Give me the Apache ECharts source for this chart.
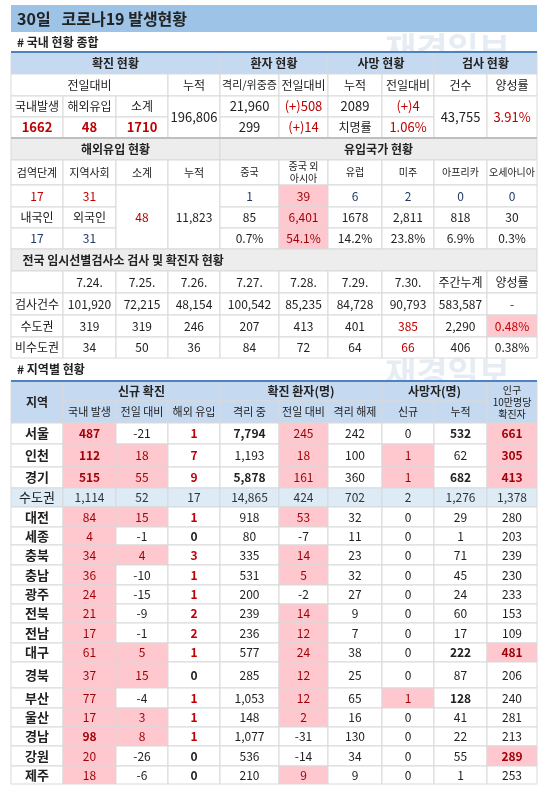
<!DOCTYPE html>
<html>
<head>
<meta charset="utf-8">
<script src="https://cdn.jsdelivr.net/npm/echarts@6/dist/echarts.min.js"></script>
<style>html,body{margin:0;padding:0;background:#fff}#main{width:550px;height:793px}</style>
</head>
<body>
<div id="main"></div>
<script>
// ---- data ----
const summaryHeads = ['확진 현황', '환자 현황', '사망 현황', '검사 현황'];
const summarySubHeads = ['전일대비', '누적', '격리/위중증', '전일대비', '누적', '전일대비', '건수', '양성률'];
const confirmedLabels = ['국내발생', '해외유입', '소계'];
const confirmedToday = ['1662', '48', '1710'];
const confirmedTotal = '196,806';
const patients = ['21,960', '(+)508', '299', '(+)14'];
const deaths = ['2089', '(+)4', '치명률', '1.06%'];
const tests = ['43,755', '3.91%'];

const overseasHeads = ['검역단계', '지역사회', '소계', '누적', '중국', '중국 외\n아시아', '유럽', '미주', '아프리카', '오세아니아'];
const overseasStage = ['17', '31'];
const overseasOrigin = ['내국인', '외국인'];
const overseasOriginNum = ['17', '31'];
const overseasSum = '48';
const overseasTotal = '11,823';
const countryToday = ['1', '39', '6', '2', '0', '0'];
const countryTotal = ['85', '6,401', '1678', '2,811', '818', '30'];
const countryShare = ['0.7%', '54.1%', '14.2%', '23.8%', '6.9%', '0.3%'];

const testDates = ['7.24.', '7.25.', '7.26.', '7.27.', '7.28.', '7.29.', '7.30.', '주간누계', '양성률'];
const testRows = ['검사건수', '수도권', '비수도권'];
const testCounts = ['101,920', '72,215', '48,154', '100,542', '85,235', '84,728', '90,793', '583,587', '-'];
const testCapital = ['319', '319', '246', '207', '413', '401', '385', '2,290', '0.48%'];
const testNonCapital = ['34', '50', '36', '84', '72', '64', '66', '406', '0.38%'];

const regionSubHeads = ['국내 발생', '전일 대비', '해외 유입', '격리 중', '전일 대비', '격리 해제', '신규', '누적'];
const regions = ['서울', '인천', '경기', '수도권', '대전', '세종', '충북', '충남', '광주', '전북', '전남', '대구', '경북', '부산', '울산', '경남', '강원', '제주'];
const newDomestic = ['487', '112', '515', '1,114', '84', '4', '34', '36', '24', '21', '17', '61', '37', '77', '17', '98', '20', '18'];
const newDiff = ['-21', '18', '55', '52', '15', '-1', '4', '-10', '-15', '-9', '-1', '5', '15', '-4', '3', '8', '-26', '-6'];
const newOverseas = ['1', '7', '9', '17', '1', '0', '3', '1', '1', '2', '2', '1', '0', '1', '1', '1', '0', '0'];
const isolating = ['7,794', '1,193', '5,878', '14,865', '918', '80', '335', '531', '200', '239', '236', '577', '285', '1,053', '148', '1,077', '536', '210'];
const isoDiff = ['245', '18', '161', '424', '53', '-7', '14', '5', '-2', '14', '12', '24', '12', '12', '2', '-31', '-14', '9'];
const released = ['242', '100', '360', '702', '32', '11', '23', '32', '27', '9', '7', '38', '25', '65', '16', '130', '34', '9'];
const deathNew = ['0', '1', '1', '2', '0', '0', '0', '0', '0', '0', '0', '0', '0', '1', '0', '0', '0', '0'];
const deathTotal = ['532', '62', '682', '1,276', '29', '1', '71', '45', '24', '60', '17', '222', '87', '128', '41', '22', '55', '1'];
const per100k = ['661', '305', '413', '1,378', '280', '203', '239', '230', '233', '153', '109', '481', '206', '240', '281', '213', '289', '253'];
// highlighted cells [row, col]
const regionPink = [[0,1],[0,5],[0,9],[1,1],[1,2],[1,5],[1,7],[1,9],[2,1],[2,2],[2,5],[2,7],[2,9],
  [4,1],[4,2],[4,5],[5,1],[6,1],[6,2],[6,5],[7,1],[7,5],[8,1],[9,1],[9,5],[10,1],[10,5],
  [11,1],[11,2],[11,5],[11,9],[12,1],[12,2],[12,5],[13,1],[13,5],[13,7],[14,1],[14,2],[14,5],
  [15,1],[15,2],[16,1],[16,9],[17,1],[17,5]];
const regionBold = [[0,1],[1,1],[2,1],[15,1],[0,4],[2,4],[0,8],[2,8],[11,8],[13,8],[0,9],[1,9],[2,9],[11,9],[16,9]];

// ---- layout ----
const C = [11, 63, 116, 168, 220, 279, 328, 382, 434, 487, 537];
const R1 = [52, 74, 96, 117, 138];
const R2 = [138, 160, 185, 207, 228, 249];
const R3 = [249, 271, 293, 315, 337, 358];
const R4 = [381, 401, 423, 444, 467, 488, 507, 527, 545, 565, 585, 604, 623, 643, 662, 688, 708, 727, 746, 766, 784];

const HEAD = '#c5d9f1', GRAY = '#ededed', PINK = '#ffc7ce', RED = '#c00000', PINKTXT = '#9c0006', LINE = '#d9d9d9';
const cells = [];
function cell(x0, x1, y0, y1, text, o = {}) {
  cells.push(Object.assign({ x0, x1, y0, y1, text, bg: '#fff', color: '#222', bold: false, size: 12, align: 'center', stroke: LINE }, o));
}
function cc(c0, c1, y0, y1, text, o) { cell(C[c0], C[c1], y0, y1, text, o); }

// title
cell(11, 537, 5, 32, '30일   코로나19 발생현황', { bg: '#9dc3e6', bold: true, size: 16, align: 'left', stroke: null });
cell(11, 300, 34, 50, '# 국내 현황 종합', { bg: null, bold: true, size: 12, align: 'left', stroke: null });
cell(11, 300, 360, 378, '# 지역별 현황', { bg: null, bold: true, size: 12, align: 'left', stroke: null });

// summary
[[0, 4], [4, 6], [6, 8], [8, 10]].forEach(([a, b], i) => cc(a, b, R1[0], R1[1], summaryHeads[i], { bg: HEAD, bold: true }));
cc(0, 3, R1[1], R1[2], summarySubHeads[0]);
summarySubHeads.slice(1).forEach((t, i) => cc(i + 3, i + 4, R1[1], R1[2], t, { size: i === 1 ? 11 : 12 }));
confirmedLabels.forEach((t, i) => cc(i, i + 1, R1[2], R1[3], t));
confirmedToday.forEach((t, i) => cc(i, i + 1, R1[3], R1[4], t, { color: RED, bold: true, size: 13 }));
cc(3, 4, R1[2], R1[4], confirmedTotal, { size: 13 });
cc(4, 5, R1[2], R1[3], patients[0], { size: 13 });
cc(5, 6, R1[2], R1[3], patients[1], { size: 13, color: RED });
cc(4, 5, R1[3], R1[4], patients[2], { size: 13 });
cc(5, 6, R1[3], R1[4], patients[3], { size: 13, color: RED });
cc(6, 7, R1[2], R1[3], deaths[0], { size: 13 });
cc(7, 8, R1[2], R1[3], deaths[1], { size: 13, color: RED });
cc(6, 7, R1[3], R1[4], deaths[2]);
cc(7, 8, R1[3], R1[4], deaths[3], { size: 13, color: RED });
cc(8, 9, R1[2], R1[4], tests[0], { size: 13 });
cc(9, 10, R1[2], R1[4], tests[1], { size: 13, color: RED });

// overseas
cc(0, 4, R2[0], R2[1], '해외유입 현황', { bg: GRAY, bold: true });
cc(4, 10, R2[0], R2[1], '유입국가 현황', { bg: GRAY, bold: true });
overseasHeads.forEach((t, i) => cc(i, i + 1, R2[1], R2[2], t, { size: i >= 4 ? 10 : 11 }));
overseasStage.forEach((t, i) => cc(i, i + 1, R2[2], R2[3], t, { color: RED }));
overseasOrigin.forEach((t, i) => cc(i, i + 1, R2[3], R2[4], t));
overseasOriginNum.forEach((t, i) => cc(i, i + 1, R2[4], R2[5], t, { color: '#1f3864' }));
cc(2, 3, R2[2], R2[5], overseasSum, { color: RED });
cc(3, 4, R2[2], R2[5], overseasTotal);
[countryToday, countryTotal, countryShare].forEach((arr, r) => arr.forEach((t, i) =>
  cc(i + 4, i + 5, R2[r + 2], R2[r + 3], t, i === 1 ? { bg: PINK, color: PINKTXT } : { color: r === 0 ? '#1f3864' : '#222' })));

// screening
cell(C[0], C[10], R3[0], R3[1], '  전국 임시선별검사소 검사 및 확진자 현황', { bg: GRAY, bold: true, align: 'left' });
cc(0, 1, R3[1], R3[2], '');
testDates.forEach((t, i) => cc(i + 1, i + 2, R3[1], R3[2], t));
[testCounts, testCapital, testNonCapital].forEach((arr, r) => {
  cc(0, 1, R3[r + 2], R3[r + 3], testRows[r]);
  arr.forEach((t, i) => {
    const o = {};
    if (r > 0 && i === 6) o.color = RED;
    if (r === 1 && i === 8) { o.bg = PINK; o.color = RED; }
    cc(i + 1, i + 2, R3[r + 2], R3[r + 3], t, o);
  });
});

// regions
cc(0, 1, R4[0], R4[2], '지역', { bg: HEAD, bold: true });
cc(1, 4, R4[0], R4[1], '신규 확진', { bg: HEAD, bold: true });
cc(4, 7, R4[0], R4[1], '확진 환자(명)', { bg: HEAD, bold: true });
cc(7, 9, R4[0], R4[1], '사망자(명)', { bg: HEAD, bold: true });
cc(9, 10, R4[0], R4[2], '인구\n10만명당\n확진자', { bg: HEAD, size: 10 });
regionSubHeads.forEach((t, i) => cc(i + 1, i + 2, R4[1], R4[2], t, { bg: HEAD, size: 11 }));
const cols = [newDomestic, newDiff, newOverseas, isolating, isoDiff, released, deathNew, deathTotal, per100k];
const has = (list, r, c) => list.some(p => p[0] === r && p[1] === c);
regions.forEach((name, r) => {
  const y0 = R4[r + 2], y1 = R4[r + 3];
  const cap = name === '수도권';
  cc(0, 1, y0, y1, name, { bold: !cap, bg: cap ? '#ddebf7' : '#fff', size: 13 });
  cols.forEach((arr, k) => {
    const c = k + 1, o = { size: 12 };
    if (cap) { o.bg = '#ddebf7'; o.color = '#333'; }
    else if (has(regionPink, r, c)) { o.bg = PINK; o.color = PINKTXT; }
    if (has(regionBold, r, c)) o.bold = true;
    if (c === 3 && !cap) { o.bold = true; o.color = arr[r] === '0' ? '#222' : RED; }
    cc(c, c + 1, y0, y1, arr[r], o);
  });
});

// table top lines
const topLines = [[C[0], C[10], 51, 53, '#4f81bd'], [C[0], C[10], 137, 139, '#bfbfbf'], [C[0], C[10], 380, 382, '#4f81bd']];
topLines.forEach(([x0, x1, y0, y1, bg]) => cell(x0, x1, y0, y1, '', { bg, stroke: null }));

const chart = echarts.init(document.getElementById('main'));
chart.setOption({
  animation: false,
  graphic: [
    { type: 'text', left: 385, top: 32, z: 0, style: { text: '재경일보', fontSize: 34, fontWeight: 'bold', fill: 'rgba(180,200,220,0.35)', fontFamily: 'Noto Sans CJK KR' } },
    { type: 'text', left: 385, top: 356, z: 0, style: { text: '재경일보', fontSize: 34, fontWeight: 'bold', fill: 'rgba(180,200,220,0.35)', fontFamily: 'Noto Sans CJK KR' } }
  ],
  grid: { left: 0, right: 0, top: 0, bottom: 0 },
  xAxis: { type: 'value', min: 0, max: 550, show: false },
  yAxis: { type: 'value', min: 0, max: 793, inverse: true, show: false },
  series: [{
    type: 'custom',
    z: 5,
    data: cells.map(c => [c.x0, c.y0, c.x1, c.y1]),
    renderItem: (params, api) => {
      const c = cells[params.dataIndex];
      const p0 = api.coord([api.value(0), api.value(1)]);
      const p1 = api.coord([api.value(2), api.value(3)]);
      const w = p1[0] - p0[0], h = p1[1] - p0[1];
      const children = [];
      if (c.bg || c.stroke) {
        children.push({ type: 'rect', shape: { x: p0[0], y: p0[1], width: w, height: h },
          style: { fill: c.bg || 'none', stroke: c.stroke || null, lineWidth: c.stroke ? 1 : 0 } });
      }
      if (c.text) {
        children.push({ type: 'text', style: {
          text: c.text, x: c.align === 'left' ? p0[0] + 6 : p0[0] + w / 2, y: p0[1] + h / 2,
          align: c.align, verticalAlign: 'middle', fill: c.color, fontSize: c.size, lineHeight: c.size + 2,
          fontWeight: c.bold ? 'bold' : 'normal', fontFamily: 'Noto Sans CJK KR' } });
      }
      return { type: 'group', children };
    }
  }]
});
</script>
</body>
</html>
